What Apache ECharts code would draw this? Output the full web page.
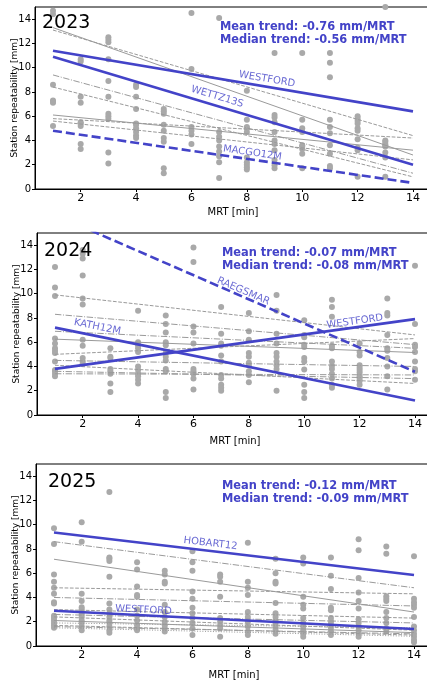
<!DOCTYPE html>
<html>
<head>
<meta charset="utf-8">
<script src="https://cdn.jsdelivr.net/npm/echarts@6/dist/echarts.min.js"></script>
<style>html,body{margin:0;padding:0;background:#fff}#main{width:427px;height:682px}</style>
</head>
<body>
<div id="main"></div>
<script>
var years = ['2023', '2024', '2025'];
var meanTrend = ['-0.76', '-0.07', '-0.12'];
var medianTrend = ['-0.56', '-0.08', '-0.09'];
var xTicks = [2, 4, 6, 8, 10, 12, 14];
var yTicks = [0, 2, 4, 6, 8, 10, 12, 14];

// station repeatability per MRT 1..14
var pts2023 = [
    [14.7, 14.4, 8.6, 7.3, 7.2, 7.1, 5.2],
    [10.7, 10.5, 7.6, 7.1, 5.5, 5.4, 5.2, 3.7, 3.3],
    [12.5, 12.3, 12.1, 10.7, 8.9, 7.6, 6.2, 6.0, 5.8, 3.0, 2.1],
    [8.6, 8.4, 7.6, 6.6, 5.4, 5.3, 5.0, 4.7, 4.4, 4.2],
    [6.6, 6.4, 6.2, 5.3, 4.8, 4.2, 3.9, 1.7, 1.3],
    [14.5, 9.9, 5.1, 4.8, 4.5, 3.7],
    [14.1, 4.7, 4.3, 4.0, 3.5, 3.1, 2.7, 2.2, 0.9],
    [8.1, 5.7, 5.1, 5.0, 4.7, 2.6, 2.2, 2.0, 1.8, 1.6],
    [11.2, 6.1, 5.9, 5.5, 4.7, 4.0, 3.7, 3.2, 2.4, 1.95, 1.7],
    [11.2, 5.7, 5.0, 4.7, 3.6, 3.5, 3.3, 2.9, 1.7],
    [11.2, 10.4, 9.2, 5.7, 5.1, 4.6, 3.6, 2.9, 1.9, 1.7],
    [6.0, 5.8, 5.6, 5.4, 5.0, 4.8, 4.1, 3.4, 3.2, 1.0],
    [15.0, 4.0, 3.9, 3.7, 3.6, 3.5, 3.0, 2.6, 1.0],
    []
];
var pts2024 = [
    [12.2, 10.5, 9.8, 6.3, 5.9, 5.5, 5.3, 5.1, 4.4, 3.7, 3.6, 3.4, 3.2],
    [13.6, 13.3, 12.9, 11.5, 9.6, 9.1, 6.2, 5.7, 4.7, 4.4, 4.2],
    [5.5, 4.8, 4.7, 3.8, 3.6, 3.4, 2.6, 1.9],
    [8.6, 6.0, 5.75, 5.5, 5.2, 4.0, 3.7, 3.4, 3.2, 2.9, 2.6],
    [8.2, 7.5, 6.8, 6.0, 5.75, 5.1, 4.8, 4.5, 3.8, 3.6, 1.9, 1.4],
    [13.8, 12.6, 7.3, 6.8, 5.9, 3.8, 3.6, 3.4, 3.0, 2.1],
    [8.9, 6.7, 5.9, 5.7, 4.9, 4.4, 3.3, 3.0, 2.5, 2.25, 2.0],
    [8.4, 6.9, 6.2, 5.1, 4.8, 4.3, 4.1, 3.6, 3.3, 2.7],
    [9.9, 8.6, 6.7, 5.9, 5.1, 4.8, 4.4, 4.1, 3.8, 2.0],
    [7.8, 6.6, 6.4, 5.8, 5.6, 4.7, 4.4, 3.75, 2.5, 1.9, 1.4],
    [9.5, 8.9, 8.1, 5.7, 5.5, 4.4, 4.05, 3.8, 3.4, 3.0, 2.5, 2.25],
    [5.9, 5.2, 4.9, 4.1, 3.9, 3.7, 3.5, 3.2, 3.0, 2.8, 2.5],
    [9.6, 8.4, 8.2, 6.6, 5.5, 5.3, 4.7, 4.0, 3.2, 2.1],
    [12.3, 7.5, 5.8, 5.6, 5.2, 4.4, 3.8, 3.6, 2.9]
];
var pts2025 = [
    [9.7, 8.4, 5.9, 5.3, 4.8, 4.3, 3.6, 3.5, 2.5, 2.3, 2.1, 1.9, 1.7, 1.5],
    [10.2, 8.6, 4.3, 3.7, 3.2, 3.0, 2.8, 2.6, 2.4, 2.1, 1.9, 1.6, 1.3],
    [12.7, 7.3, 7.2, 7.0, 5.7, 3.5, 3.0, 2.7, 2.4, 2.1, 1.9, 1.6, 1.3, 1.1],
    [6.9, 6.3, 4.9, 4.2, 4.05, 3.0, 2.5, 2.1, 1.7, 1.45, 1.3],
    [6.2, 5.9, 5.3, 5.15, 3.4, 2.8, 2.4, 2.0, 1.7, 1.45, 1.2],
    [7.8, 6.9, 6.2, 4.5, 3.9, 3.15, 2.7, 2.3, 1.9, 1.45, 0.9],
    [5.9, 5.7, 5.3, 4.05, 2.3, 2.0, 1.7, 1.45, 0.77],
    [8.5, 5.3, 4.8, 4.2, 2.8, 2.4, 2.0, 1.6, 1.2, 0.9],
    [7.2, 6.0, 5.3, 5.15, 3.55, 2.7, 2.4, 2.1, 1.9, 1.6, 1.3, 1.0],
    [7.3, 6.8, 4.05, 3.4, 3.1, 2.3, 1.9, 1.6, 1.3, 1.0, 0.77],
    [7.3, 5.8, 4.7, 3.15, 2.95, 2.3, 2.05, 1.8, 1.5, 1.2, 0.9],
    [8.8, 7.9, 5.6, 4.4, 3.7, 3.1, 2.2, 1.9, 1.6, 1.3, 1.0, 0.77],
    [8.2, 7.6, 4.1, 3.9, 3.7, 2.8, 2.3, 1.9, 1.45, 1.2],
    [7.4, 3.9, 3.6, 3.4, 3.15, 2.4, 1.6, 1.3, 1.0, 0.77, 0.5, 0.3]
];

// other stations' trend lines: value at MRT 1 and MRT 14
var grayStart2023 = [13.3, 13.1, 9.4, 8.4, 6.1, 5.8, 5.6];
var grayEnd2023 = [2.8, 4.4, 1.3, 1.0, 3.2, 4.2, 2.4];
var grayType2023 = ['solid', 'dashed', 'dashdot', 'dashed', 'solid', 'dashed', 'dashed'];
var grayStart2024 = [9.9, 8.3, 6.9, 6.25, 5.0, 4.5, 4.1, 3.6, 3.4];
var grayEnd2024 = [6.6, 5.8, 5.5, 5.15, 6.3, 4.0, 2.6, 3.0, 3.3];
var grayType2024 = ['dashed', 'dashdot', 'dashdot', 'solid', 'dashed', 'dashdot', 'dashed', 'dashdot', 'dashdot'];
var grayStart2025 = [8.6, 7.15, 4.8, 4.0, 3.0, 2.6, 2.4, 2.1, 1.9, 1.7, 1.6, 1.5];
var grayEnd2025 = [4.8, 2.8, 4.3, 3.3, 2.3, 1.9, 1.3, 1.1, 1.5, 0.9, 1.0, 0.8];
var grayType2025 = ['dashdot', 'solid', 'dashed', 'dashdot', 'dashed', 'dashdot', 'dashed', 'solid', 'dotted', 'dashed', 'dashdot', 'dotted'];

// highlighted stations
var blueName2023 = ['WESTFORD', 'WETTZ13S', 'MACGO12M'];
var blueStart2023 = [11.4, 10.9, 4.8];
var blueEnd2023 = [6.4, 2.0, 0.5];
var blueType2023 = ['solid', 'solid', 'dashed'];
var blueLabel2023 = [[8.73, 9.05], [6.93, 7.6], [8.2, 2.97]];
var blueName2024 = ['RAEGSMAR', 'WESTFORD', 'KATH12M'];
var blueStart2024 = [16.5, 3.8, 7.2];
var blueEnd2024 = [3.56, 7.9, 1.2];
var blueType2024 = ['dashed', 'solid', 'solid'];
var blueLabel2024 = [[7.8, 10.2], [11.83, 7.7], [2.53, 7.26]];
var blueName2025 = ['HOBART12', 'WESTFORD'];
var blueStart2025 = [9.35, 2.9];
var blueEnd2025 = [5.85, 1.4];
var blueType2025 = ['solid', 'solid'];
var blueLabel2025 = [[6.65, 8.45], [4.23, 2.96]];

var panels = [
    {pts: pts2023, gs: grayStart2023, ge: grayEnd2023, gt: grayType2023, bn: blueName2023, bs: blueStart2023, be: blueEnd2023, bt: blueType2023, bl: blueLabel2023},
    {pts: pts2024, gs: grayStart2024, ge: grayEnd2024, gt: grayType2024, bn: blueName2024, bs: blueStart2024, be: blueEnd2024, bt: blueType2024, bl: blueLabel2024},
    {pts: pts2025, gs: grayStart2025, ge: grayEnd2025, gt: grayType2025, bn: blueName2025, bs: blueStart2025, be: blueEnd2025, bt: blueType2025, bl: blueLabel2025}
];

var BLUE = '#4343c8';
var GRAY = '#a9a9a9';
var XMIN = 0.35, XMAX = 14.65, YMAX = 15;
var grids = [
    {left: 35, top: 7, width: 396, height: 182},
    {left: 37, top: 233, width: 396, height: 182},
    {left: 36, top: 464, width: 396, height: 182}
];
var xNameGap = [18, 21, 24];
var yearPos = [[42, 14], [44, 242], [48, 473]];
var trendPos = [[220, 21], [222, 247], [222, 480]];

function dash(t, w) {
    if (t === 'dashed') return [3.7 * w, 1.6 * w];
    if (t === 'dashdot') return [6.4 * w, 1.6 * w, 1 * w, 1.6 * w];
    if (t === 'dotted') return [1 * w, 1.65 * w];
    return 'solid';
}

var dom = document.getElementById('main');
var myChart = echarts.init(dom, null, {renderer: 'canvas'});

var xAxes = [], yAxes = [], series = [], titles = [];
grids.forEach(function (g, p) {
    g.show = true;
    g.borderColor = '#000';
    g.borderWidth = 1;
    g.containLabel = false;
    g.outerBoundsMode = 'none';
    xAxes.push({
        type: 'value', gridIndex: p, min: XMIN, max: XMAX,
        name: 'MRT [min]', nameLocation: 'middle', nameGap: xNameGap[p], nameMoveOverlap: false,
        nameTextStyle: {fontFamily: 'DejaVu Sans', fontSize: 10, color: '#000'},
        axisLine: {show: true, lineStyle: {color: '#000', width: 1}},
        axisTick: {show: true, length: 3, customValues: xTicks, lineStyle: {color: '#000'}},
        axisLabel: {customValues: xTicks, fontFamily: 'DejaVu Sans', fontSize: 11, color: '#000', margin: 4},
        splitLine: {show: false}
    });
    yAxes.push({
        type: 'value', gridIndex: p, min: 0, max: YMAX,
        name: 'Station repeatability [mm]', nameLocation: 'middle', nameGap: 16, nameRotate: 90,
        nameMoveOverlap: false,
        nameTextStyle: {fontFamily: 'DejaVu Sans', fontSize: 9, color: '#000'},
        axisLine: {show: true, lineStyle: {color: '#000', width: 1}},
        axisTick: {show: true, length: 3, customValues: yTicks, lineStyle: {color: '#000'}},
        axisLabel: {customValues: yTicks, fontFamily: 'DejaVu Sans', fontSize: 10, color: '#000', margin: 4},
        splitLine: {show: false}
    });
    titles.push({
        text: years[p], left: yearPos[p][0], top: yearPos[p][1], padding: 0,
        textStyle: {fontFamily: 'DejaVu Sans', fontSize: 19, fontWeight: 'normal', color: '#000'}
    });
    titles.push({
        text: 'Mean trend: ' + meanTrend[p] + ' mm/MRT\nMedian trend: ' + medianTrend[p] + ' mm/MRT',
        left: trendPos[p][0], top: trendPos[p][1], padding: 0,
        textStyle: {fontFamily: 'DejaVu Sans', fontSize: 11.4, fontWeight: 'bold', color: BLUE, lineHeight: 13}
    });

    var d = panels[p];
    var sc = [];
    d.pts.forEach(function (col, i) {
        col.forEach(function (v) { sc.push([i + 1, v]); });
    });
    series.push({
        type: 'scatter', xAxisIndex: p, yAxisIndex: p, data: sc, symbolSize: 6,
        itemStyle: {color: GRAY, opacity: 1}, silent: true, z: 1
    });
    d.gs.forEach(function (s, i) {
        series.push({
            type: 'line', xAxisIndex: p, yAxisIndex: p, data: [[1, s], [14, d.ge[i]]],
            symbol: 'none', silent: true, z: 2,
            lineStyle: {color: '#9a9a9a', width: 1, type: dash(d.gt[i], 1)}
        });
    });
    var pxY = g.height / YMAX, pxX = g.width / (XMAX - XMIN);
    var labels = [];
    d.bs.forEach(function (s, i) {
        series.push({
            type: 'line', xAxisIndex: p, yAxisIndex: p, data: [[1, s], [14, d.be[i]]],
            symbol: 'none', silent: true, z: 3, clip: true,
            lineStyle: {color: BLUE, width: 2.6, type: d.bt[i] === 'dashed' ? [9, 4] : 'solid'}
        });
        var slope = (d.be[i] - s) / 13;
        labels.push({
            value: d.bl[i], name: d.bn[i],
            label: {rotate: Math.atan(slope * pxY / pxX) * 180 / Math.PI}
        });
    });
    series.push({
        type: 'scatter', xAxisIndex: p, yAxisIndex: p, data: labels, symbolSize: 1,
        itemStyle: {color: 'rgba(0,0,0,0)'}, silent: true, z: 4,
        label: {
            show: true, position: 'inside', formatter: '{b}', align: 'center', verticalAlign: 'middle',
            fontFamily: 'DejaVu Sans', fontSize: 10, color: BLUE
        }
    });
});

option = {
    backgroundColor: '#fff',
    animation: false,
    title: titles,
    grid: grids,
    xAxis: xAxes,
    yAxis: yAxes,
    series: series
};
if (option && typeof option === "object") {
    myChart.setOption(option, true);
}
</script>
</body>
</html>
